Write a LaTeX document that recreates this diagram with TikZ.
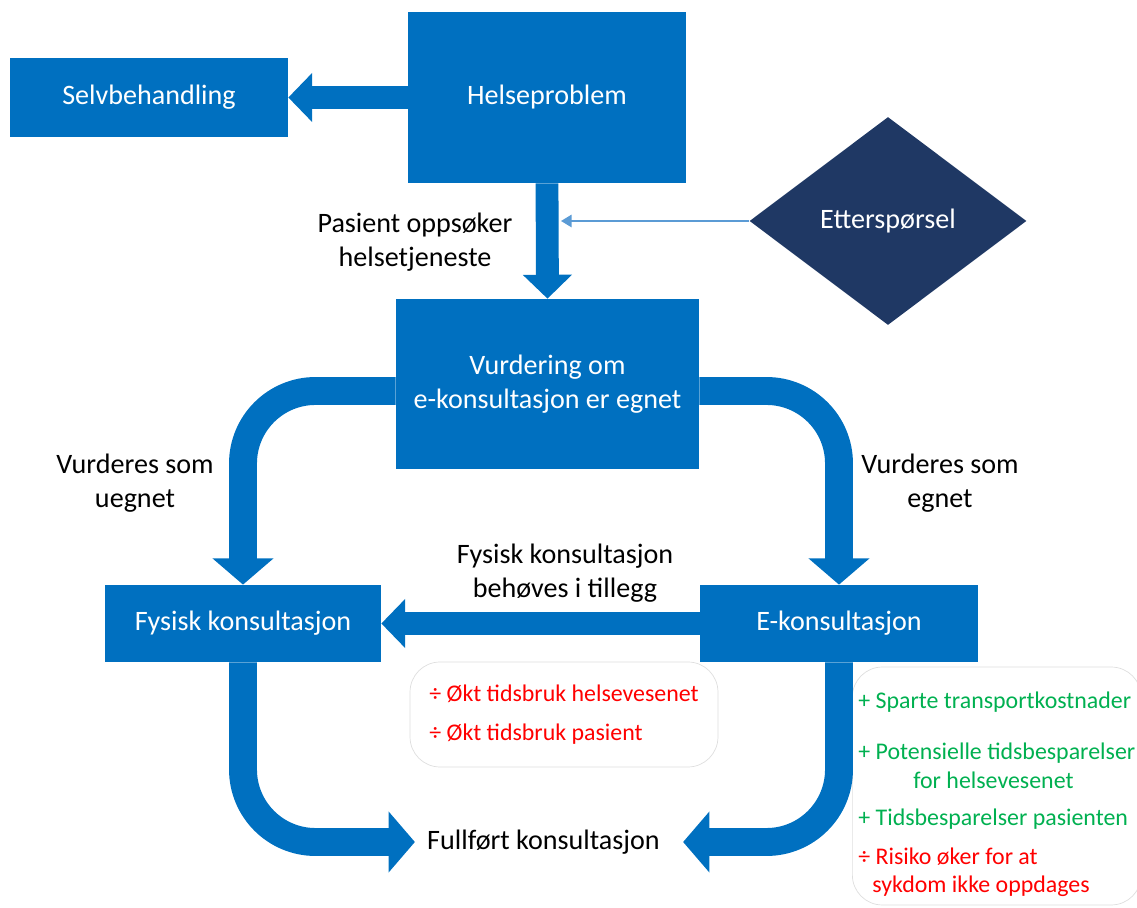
\documentclass[tikz,border=0pt]{standalone}
\usepackage{fontspec}
\setmainfont{Carlito}
\usepackage{tikz}
\usetikzlibrary{positioning,shapes.geometric,arrows.meta}

\definecolor{blaa}{HTML}{0070C0}
\definecolor{moerkblaa}{HTML}{1F3864}
\definecolor{lysblaa}{HTML}{5B9BD5}
\definecolor{groenn}{HTML}{00B050}
\definecolor{roed}{HTML}{FF0000}

\begin{document}
\begin{tikzpicture} [x=0.02cm, y=-0.02cm,
                    boks/.style={rectangle,fill=blaa,text=white,inner sep=0pt,align=center,
                                 font=\fontsize{16}{19.5}\selectfont},
                    tekst/.style={align=center,font=\fontsize{16}{19.5}\selectfont},
                    liste/.style={draw=black!13,rounded corners=0.6cm,align=left,
                                  font=\fontsize{13.6}{16.3}\selectfont},
                    rettpil/.style={draw=blaa,line width=13pt,-{Triangle[width=27.2pt,length=13.6pt]}},
                    buepil/.style={draw=blaa,line width=15.9pt,rounded corners=1.45cm,
                                   -{Triangle[width=34pt,length=15pt]}},
                    tynnpil/.style={draw=lysblaa,line width=1pt,-{Triangle[width=7pt,length=6pt]}}]

\useasboundingbox (0,0) rectangle (1137,908);

\node[boks, minimum width=5.56cm, minimum height=1.58cm] (selv) at (149,97.5) {Selvbehandling};
\node[boks, minimum width=5.56cm, minimum height=3.42cm] (helse) at (547,97.5) {Helseproblem};
\node[diamond, fill=moerkblaa, text=white, inner sep=0pt, aspect=1.33,
      minimum width=5.54cm, minimum height=4.16cm, font=\fontsize{16}{19.5}\selectfont]
      (ettersp) at (888,221) {Etterspørsel};
\node[boks, minimum width=6.06cm, minimum height=3.40cm] (vurd) at (547.5,384) {Vurdering om\\e-konsultasjon er egnet};
\node[boks, minimum width=5.52cm, minimum height=1.54cm] (fysisk) at (243,623.5) {Fysisk konsultasjon};
\node[boks, minimum width=5.56cm, minimum height=1.54cm] (ekons) at (839,623.5) {E-konsultasjon};

\node[tekst] (pasient) at (415,242) {Pasient oppsøker\\helsetjeneste};
\node[tekst] (uegnet) at (135,483) {Vurderes som\\uegnet};
\node[tekst] (egnet) at (940,483) {Vurderes som\\egnet};
\node[tekst] (behov) at (565,573) {Fysisk konsultasjon\\behøves i tillegg};
\node[tekst, inner xsep=0.24cm] (fullfort) at (543.5,842) {Fullført konsultasjon};

\node[liste, minimum width=6.16cm, minimum height=2.1cm, text=roed]
      (minus) at (564,714.5) {÷ Økt tidsbruk helsevesenet\\[6pt]÷ Økt tidsbruk pasient};
\node[liste, anchor=west, inner xsep=0.12cm, minimum height=4.76cm, text=groenn]
      (pluss) at (852,786) {\rule{0pt}{19pt}+ Sparte transportkostnader\\[13pt]
                            + Potensielle tidsbesparelser\\
                            \hspace*{1.1cm}for helsevesenet\\[4.5pt]
                            + Tidsbesparelser pasienten\\[6pt]
                            \textcolor{roed}{÷ Risiko øker for at}\\
                            \hspace*{0.28cm}\textcolor{roed}{sykdom ikke oppdages}};

\coordinate (inn) at (561,221);

\draw[rettpil] (helse.west) -- (selv.east);
\draw[rettpil] (helse.south) -- (vurd.north);
\draw[tynnpil] (ettersp.west) -- (inn);
\draw[rettpil] (ekons.west) -- (fysisk.east);
\draw[buepil] ([yshift=-0.14cm]vurd.west) -| (fysisk.north);
\draw[buepil] ([yshift=-0.14cm]vurd.east) -| (ekons.north);
\draw[buepil] (fysisk.south) |- (fullfort.west);
\draw[buepil] (ekons.south) |- ([xshift=0.22cm]fullfort.east);
\end{tikzpicture}
\end{document}
